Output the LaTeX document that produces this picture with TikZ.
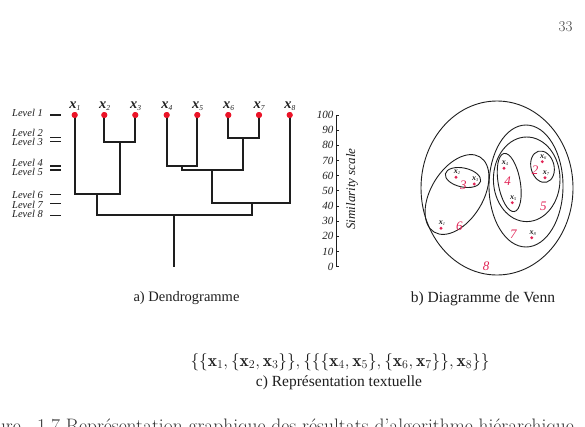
\documentclass[tikz,border=0pt]{standalone}
\usepackage{fontspec}
\newfontfamily\tnr{Liberation Serif}
\usetikzlibrary{calc}
\definecolor{dotred}{RGB}{235,20,40}
\definecolor{vennred}{RGB}{225,35,85}
\definecolor{ink}{RGB}{30,30,30}
\newcommand\xsub[1]{x\raisebox{-0.35ex}{\fontsize{7.5}{8}\selectfont\mdseries\itshape #1}}
\newcommand\vsub[1]{x\raisebox{-0.3ex}{\fontsize{4.5}{5}\selectfont\mdseries\itshape #1}}
\begin{document}
\begin{tikzpicture}[x=1pt,y=-1pt,
  leaf/.style={circle,fill=dotred,inner sep=0pt,minimum size=6pt},
  vdot/.style={circle,fill=vennred,inner sep=0pt,minimum size=3.2pt},
  branch/.style={draw=ink,line width=1.7pt},
  lvl/.style={font=\tnr\itshape\fontsize{10.5}{12}\selectfont,anchor=east,inner sep=0pt,text=ink},
  lvldash/.style={draw=ink,line width=1.2pt},
  xlab/.style={font=\tnr\bfseries\itshape\fontsize{14.5}{15}\selectfont,inner sep=0pt,anchor=base west,text=ink},
  vlab/.style={font=\tnr\bfseries\itshape\fontsize{8}{9}\selectfont,inner sep=0pt,anchor=base west,text=ink},
  vnum/.style={font=\tnr\itshape\fontsize{13}{14}\selectfont,text=vennred,inner sep=0pt},
  setline/.style={draw=ink,line width=0.9pt},
  scalenum/.style={font=\tnr\itshape\fontsize{11}{12}\selectfont,anchor=east,inner sep=0pt,text=ink},
  captext/.style={font=\tnr\fontsize{15.5}{18}\selectfont,inner sep=0pt,text=ink}
]
\useasboundingbox (0,0) rectangle (585,426);
\clip (0,0) rectangle (585,426);

% page number
\node[font=\fontsize{15}{17}\selectfont,text=black!75,inner sep=0pt] (pg) at (565.5,26.7) {33};

% ---------------- Dendrogram ----------------
\foreach \i/\xx in {1/74.7,2/104.3,3/135.3,4/166.7,5/197.3,6/228.3,7/259,8/289.7}{
  \node[leaf] (l\i) at (\xx,115) {};
  \node[xlab] (t\i) at ($(l\i)+(-5.5,-6.5)$) {\xsub{\i}};
}
\coordinate (m23) at (120,141.7);
\coordinate (m67) at (243.3,137.7);
\coordinate (m45) at (181.7,166);
\coordinate (m4567) at (212.3,170);
\coordinate (m123) at (96.7,194.3);
\coordinate (m45678) at (251.7,203.3);
\coordinate (root) at (174.3,215.3);
\coordinate (base) at (174.3,266.7);

\draw[branch] (l2.center) |- (m23) -| (l3.center);
\draw[branch] (l6.center) |- (m67) -| (l7.center);
\draw[branch] (l4.center) |- (m45) -| (l5.center);
\draw[branch] (m45) |- (m4567) -| (m67);
\draw[branch] (l1.center) |- (m123) -| (m23);
\draw[branch] (m4567) |- (m45678) -| (l8.center);
\draw[branch] (m123) |- (root) -| (m45678);
\draw[branch] (root) -- (base);
% redraw dots on top
\foreach \i in {1,...,8}{ \fill[dotred] (l\i) circle (3pt); }

% level labels
\foreach \n/\ty/\dy in {1/113.3/115,2/132.7/137.7,3/142.3/141.7,4/163.3/166,5/171.7/170,6/195/194.3,7/205/203.3,8/214/215.3}{
  \node[lvl] (lv\n) at (43,\ty) {Level \n};
  \coordinate (ld\n a) at (50,\dy);
  \coordinate (ld\n b) at (61,\dy);
  \draw[lvldash] (ld\n a) -- (ld\n b);
}

% similarity scale
\coordinate (ax0) at (336,266.7);
\coordinate (ax100) at (336,115);
\draw[draw=ink,line width=1pt] (ax0) -- (ax100);
\foreach \k in {0,...,10}{
  \pgfmathsetmacro{\yy}{266.7-15.17*\k}
  \pgfmathtruncatemacro{\lab}{10*\k}
  \draw[draw=ink,line width=0.8pt] (336,\yy) -- (338.5,\yy);
  \node[scalenum] at (333.5,\yy) {\lab};
}
\node[font=\tnr\itshape\fontsize{13}{14}\selectfont,rotate=90,inner sep=0pt,text=ink] (simlab) at (352,189) {Similarity scale};

% ---------------- Venn diagram ----------------
\draw[setline] (497,188) ellipse [x radius=76, y radius=87];
\draw[setline,rotate around={58.5:(457,194.5)}] (457,194.5) ellipse [x radius=44, y radius=26];
\draw[setline,rotate around={-12:(463,177.5)}] (463,177.5) ellipse [x radius=18, y radius=9.5];
\draw[setline] (526,186) ellipse [x radius=37, y radius=61];
\draw[setline] (526.7,179.3) ellipse [x radius=33.3, y radius=42.3];
\draw[setline,rotate around={10:(509.2,182.5)}] (509.2,182.5) ellipse [x radius=11, y radius=29.5];
\draw[setline,rotate around={15:(542.5,166.7)}] (542.5,166.7) ellipse [x radius=11.5, y radius=16];

\foreach \i/\px/\py in {1/441/228.3,2/456/177.3,3/474.3/184,4/504/168.3,5/512.3/202.7,6/542.3/161.7,7/545/177.7,8/531.7/237.7}{
  \node[vdot] (v\i) at (\px,\py) {};
  \node[vlab] (vl\i) at ($(v\i)+(-2.3,-3.6)$) {\vsub{\i}};
}
\node[vnum] (n3) at (463.3,185) {3};
\node[vnum] (n6) at (459.3,226) {6};
\node[vnum] (n4) at (507.7,181.7) {4};
\node[vnum] (n2) at (535,170) {2};
\node[vnum] (n5) at (543.3,206) {5};
\node[vnum] (n7) at (513.3,234) {7};
\node[vnum] (n8) at (486,266.7) {8};

% ---------------- captions ----------------
\node[captext,font=\tnr\fontsize{14.5}{17}\selectfont] (capa) at (186.5,298.3) {a) Dendrogramme};
\node[captext] (capb) at (483,298.3) {b) Diagramme de Venn};
\node[font=\fontsize{17.5}{20}\selectfont,inner sep=0pt,text=ink] (formula) at (340,361.7)
  {$\{\{\mathbf{x}_1,\{\mathbf{x}_2,\mathbf{x}_3\}\},\{\{\{\mathbf{x}_4,\mathbf{x}_5\},\{\mathbf{x}_6,\mathbf{x}_7\}\},\mathbf{x}_8\}\}$};
\node[captext] (capc) at (339,382.5) {c) Représentation textuelle};

% cut-off figure caption
\node[font=\fontsize{19.5}{22}\selectfont,anchor=base east,inner sep=0pt,text=black!80] (figw) at (21,432) {Figure};
\node[font=\fontsize{19.5}{22}\selectfont,anchor=base west,inner sep=0pt,text=black!80] (figc) at (37,432) {1.7 Représentation graphique des résultats d'algorithme hiérarchique};
\end{tikzpicture}
\end{document}
